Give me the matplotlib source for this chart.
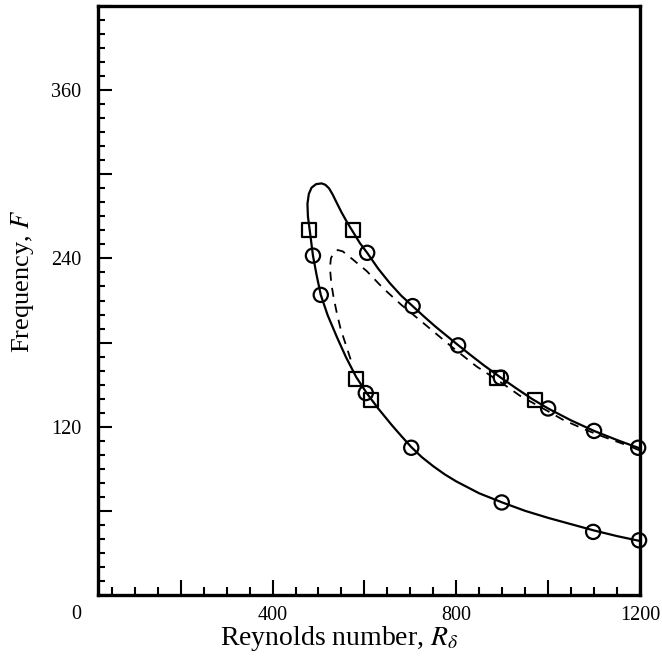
import matplotlib
matplotlib.use("Agg")
import matplotlib.pyplot as plt
from matplotlib import ticker

plt.rcParams["font.family"] = ["Liberation Serif", "DejaVu Serif"]
plt.rcParams["mathtext.fontset"] = "stix"

# measured points
circle_re = [488, 505, 606, 705, 804, 897, 1000, 1100, 1196,
             603, 702, 899, 1098, 1198]
circle_f = [242, 214, 244, 206, 178, 155, 133, 117, 105,
            144, 105, 66, 45, 39]
square_re = [480, 575, 582, 614, 888, 971]
square_f = [260, 260, 154, 139, 155, 139]

# solid neutral curve (lower branch from right, round the nose, upper branch to right)
solid_re = [1200, 1150, 1100, 1050, 1000, 950, 900, 850, 800, 775, 750, 725, 702, 680,
            660, 630, 606, 582, 560, 540, 520, 505, 496, 488, 481, 477, 476, 479, 485,
            495, 507, 515, 523, 531, 540, 550, 561, 575, 590, 606, 630, 655, 680, 705,
            730, 755, 780, 804, 830, 860, 897, 930, 965, 1000, 1050, 1100, 1150, 1200]
solid_f = [38.5, 42, 46, 50.5, 55, 60, 66, 72.5, 81, 86, 91.8, 98.3, 105.5, 113.5,
           121, 133, 143.5, 155.5, 169.5, 184, 199.5, 214, 228, 242, 260, 270, 279, 286, 290.5,
           293, 293.5, 292.5, 290, 285.5, 279.5, 273, 266.5, 259, 251, 244, 232.7, 222.5, 213.5, 206,
           198.5, 191.3, 184.6, 178.2, 171.4, 163.8, 155, 147.5, 139.8, 133, 124.5, 117, 110.5, 104.5]

# dashed curve
dash_re = [570, 558, 548, 540, 533, 528, 525, 527, 533, 542, 553, 572, 605, 640,
           680, 728, 790, 844, 900, 939, 1000, 1032, 1080, 1119, 1178, 1200]
dash_f = [168, 180, 190, 201, 212, 222, 233, 240, 244, 246, 245, 240, 231, 219,
          207, 194, 177, 163, 151, 142, 131, 125, 118, 113, 106, 103]

fig = plt.figure(figsize=(6.62, 6.59), dpi=100)
ax = fig.add_axes([98 / 662, 1 - 595 / 659, 542 / 662, 589 / 659])

ax.plot(solid_re, solid_f, color="black", lw=1.6, solid_joinstyle="round", zorder=2)
ax.plot(dash_re, dash_f, color="black", lw=1.3, ls=(0, (5, 4)), zorder=2)

ax.scatter(circle_re, circle_f, s=105, marker="o", facecolor="none",
           edgecolor="black", linewidth=1.6, zorder=3, clip_on=False)
ax.scatter(square_re, square_f, s=105, marker="s", facecolor="none",
           edgecolor="black", linewidth=1.6, zorder=3, clip_on=False)

ax.set_xlim(20, 1200)
ax.set_ylim(0, 420)

for sp in ax.spines.values():
    sp.set_linewidth(2.4)

ax.xaxis.set_major_locator(ticker.MultipleLocator(200))
ax.xaxis.set_minor_locator(ticker.MultipleLocator(50))
ax.yaxis.set_major_locator(ticker.MultipleLocator(60))
ax.yaxis.set_minor_locator(ticker.MultipleLocator(10))

ax.xaxis.set_major_formatter(ticker.FuncFormatter(
    lambda v, p: f"{v:.0f}" if v > 0 and round(v) % 400 == 0 else ""))
ax.yaxis.set_major_formatter(ticker.FuncFormatter(
    lambda v, p: f"{v:.0f}" if v > 0 and round(v) % 120 == 0 else ""))

ax.tick_params(axis="x", which="major", direction="in", length=11, width=1.5,
               labelsize=14.5, pad=8)
ax.tick_params(axis="x", which="minor", direction="in", length=6, width=1.5)
ax.tick_params(axis="y", which="major", direction="in", length=10, width=1.5,
               labelsize=14.5, pad=12)
ax.tick_params(axis="y", which="minor", direction="in", length=5, width=1.5)
ax.tick_params(top=False, right=False)

ax.text(-0.04, -0.017, "0", transform=ax.transAxes, fontsize=14.5,
        ha="center", va="top")

ax.set_xlabel(r"Reynolds number, $R_\delta$", fontsize=20)
ax.xaxis.set_label_coords(0.445, -0.05, transform=ax.transAxes)
ax.xaxis.label.set_va("top")
ax.set_ylabel(r"Frequency, $F$", fontsize=19)
ax.yaxis.set_label_coords(-0.14, 0.533, transform=ax.transAxes)
ax.yaxis.label.set_va("center")

fig.savefig("out.png", dpi=100)
